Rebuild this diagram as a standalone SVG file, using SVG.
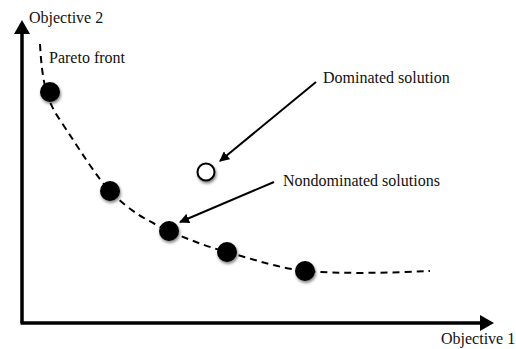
<svg xmlns="http://www.w3.org/2000/svg" width="516" height="349" viewBox="0 0 516 349">
<style>
text{font-family:"Liberation Serif","DejaVu Serif",serif;font-size:16px;fill:#111}
.axis{stroke:#000;stroke-width:3.5;fill:none}
.front{stroke:#000;stroke-width:2;fill:none;stroke-dasharray:7 5}
.ptr{stroke:#000;stroke-width:2;fill:none}
.dot{fill:#000;filter:url(#sh)}
.hollow{fill:#fff;stroke:#000;stroke-width:2;filter:url(#sh)}
</style>
<defs>
<marker id="ah" viewBox="0 0 10 10" refX="9" refY="5" markerWidth="5" markerHeight="5" orient="auto" markerUnits="strokeWidth"><path d="M0,0 L10,5 L0,10 z" fill="#000"/></marker>
<filter id="sh" x="-50%" y="-50%" width="200%" height="200%"><feGaussianBlur in="SourceAlpha" stdDeviation="1.5"/><feOffset dx="1" dy="2" result="b"/><feComponentTransfer><feFuncA type="linear" slope="0.5"/></feComponentTransfer><feMerge><feMergeNode/><feMergeNode in="SourceGraphic"/></feMerge></filter>
</defs>
<g id="axes">
<path class="axis" d="M22,323 V32"/>
<path d="M14,34 L22,20 L30,34 z" fill="#000"/>
<path class="axis" d="M20.5,323 H482"/>
<path d="M480,315 L494,323 L480,331 z" fill="#000"/>
</g>
<g id="connectors">
<path class="front" d="M40,44 C42,80 46,100 60,120 C80,150 95,175 110,191 C130,212 150,222 169,231 C190,240 205,246 227,252 C255,260 280,268 304,271 C340,274 390,273 430,271"/>
<path class="ptr" d="M316,82 L220,161" marker-end="url(#ah)"/>
<path class="ptr" d="M274,182 L180,222" marker-end="url(#ah)"/>
</g>
<g id="p1"><circle class="dot" cx="50" cy="92" r="10"/></g>
<g id="p2"><circle class="dot" cx="110" cy="191" r="10"/></g>
<g id="p3"><circle class="dot" cx="169" cy="231" r="10"/></g>
<g id="p4"><circle class="dot" cx="227" cy="252" r="10"/></g>
<g id="p5"><circle class="dot" cx="305" cy="271" r="10"/></g>
<g id="dominated"><circle class="hollow" cx="206" cy="172" r="8.5"/></g>
<g id="labels">
<text x="29" y="23">Objective 2</text>
<text x="441" y="344">Objective 1</text>
<text x="49" y="63">Pareto front</text>
<text x="323" y="83">Dominated solution</text>
<text x="283" y="186">Nondominated solutions</text>
</g>
</svg>
